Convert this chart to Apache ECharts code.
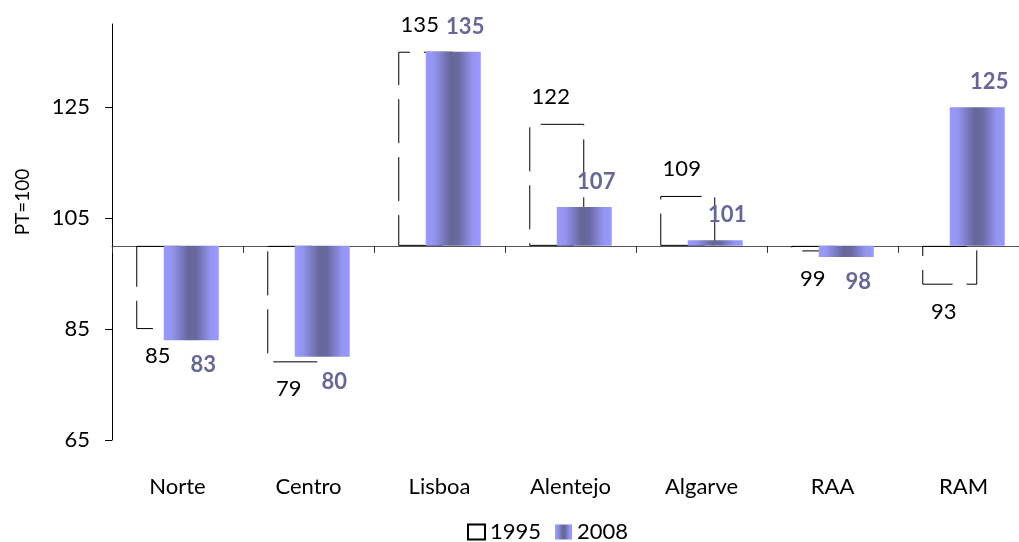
<!DOCTYPE html>
<html>
<head>
<meta charset="utf-8">
<script src="https://cdn.jsdelivr.net/npm/echarts@6/dist/echarts.min.js"></script>
<style>
html,body{margin:0;padding:0;background:#fff;}
#chart{width:1019px;height:542px;}
</style>
</head>
<body>
<div id="chart"></div>
<script>
const categories = ['Norte', 'Centro', 'Lisboa', 'Alentejo', 'Algarve', 'RAA', 'RAM'];
const values1995 = [85, 79, 135, 122, 109, 99, 93];
const values2008 = [83, 80, 135, 107, 101, 98, 125];
const yTickValues = [65, 85, 105, 125];
const BASE = 100;
const seriesNames = ['1995', '2008'];

const FONT = 'Lato, "Open Sans", sans-serif';
const FS = 22;

function toItems(arr) {
  return arr.map(v => ({
    value: v - BASE,
    label: { position: v >= BASE ? 'top' : 'bottom' }
  }));
}

const chart = echarts.init(document.getElementById('chart'));
chart.setOption({
  backgroundColor: '#fff',
  animation: false,
  textStyle: { fontFamily: FONT },
  grid: { left: 112, top: 24, bottom: 102, right: -10, containLabel: false, outerBoundsMode: 'none' },
  legend: {
    left: 462, top: 516,
    icon: 'rect',
    itemWidth: 17, itemHeight: 15, itemGap: 14,
    textStyle: { fontSize: FS, color: '#000', fontFamily: FONT },
    data: seriesNames
  },
  xAxis: {
    type: 'category',
    data: categories,
    axisLine: { onZero: true, lineStyle: { color: '#555', width: 1 } },
    axisTick: { show: true, length: 7, lineStyle: { color: '#333' } },
    axisLabel: { margin: 36, fontSize: FS, color: '#000', fontFamily: FONT }
  },
  yAxis: {
    type: 'value',
    min: 65 - BASE, max: 140 - BASE,
    name: 'PT=100',
    nameLocation: 'middle',
    nameGap: 80,
    nameTextStyle: { fontSize: 19, color: '#000', fontFamily: FONT, padding: [0, 0, 0, 60] },
    splitLine: { show: false },
    axisLine: { show: true, lineStyle: { color: '#000', width: 1 } },
    axisTick: { show: true, length: 7, customValues: yTickValues.map(v => v - BASE), lineStyle: { color: '#000' } },
    axisLabel: {
      margin: 22, fontSize: FS, color: '#000', fontFamily: FONT,
      customValues: yTickValues.map(v => v - BASE),
      formatter: v => String(Math.round(v + BASE))
    }
  },
  series: [
    {
      name: seriesNames[0],
      type: 'bar',
      data: toItems(values1995),
      barWidth: 55,
      barGap: '-50%',
      itemStyle: {
        color: 'rgba(255,255,255,0)',
        borderColor: '#000',
        borderWidth: 1,
        borderType: [44, 14]
      },
      label: {
        show: true, distance: 16, offset: [-6, 0],
        fontSize: FS, color: '#000', fontFamily: FONT,
        formatter: p => String(Math.round(p.value + BASE))
      },
      z: 2
    },
    {
      name: seriesNames[1],
      type: 'bar',
      data: toItems(values2008),
      barWidth: 55,
      barGap: '-50%',
      itemStyle: {
        color: new echarts.graphic.LinearGradient(0, 0, 1, 0, [
          { offset: 0, color: '#9999ff' },
          { offset: 0.15, color: '#9494ef' },
          { offset: 0.45, color: '#666699' },
          { offset: 0.6, color: '#6a6aa3' },
          { offset: 0.85, color: '#9494f2' },
          { offset: 1, color: '#9999ff' }
        ])
      },
      label: {
        show: true, distance: 14, offset: [12, 0],
        fontSize: FS, fontWeight: 'bold', color: '#666699', fontFamily: FONT,
        formatter: p => String(Math.round(p.value + BASE))
      },
      z: 3
    }
  ]
});
</script>
</body>
</html>
